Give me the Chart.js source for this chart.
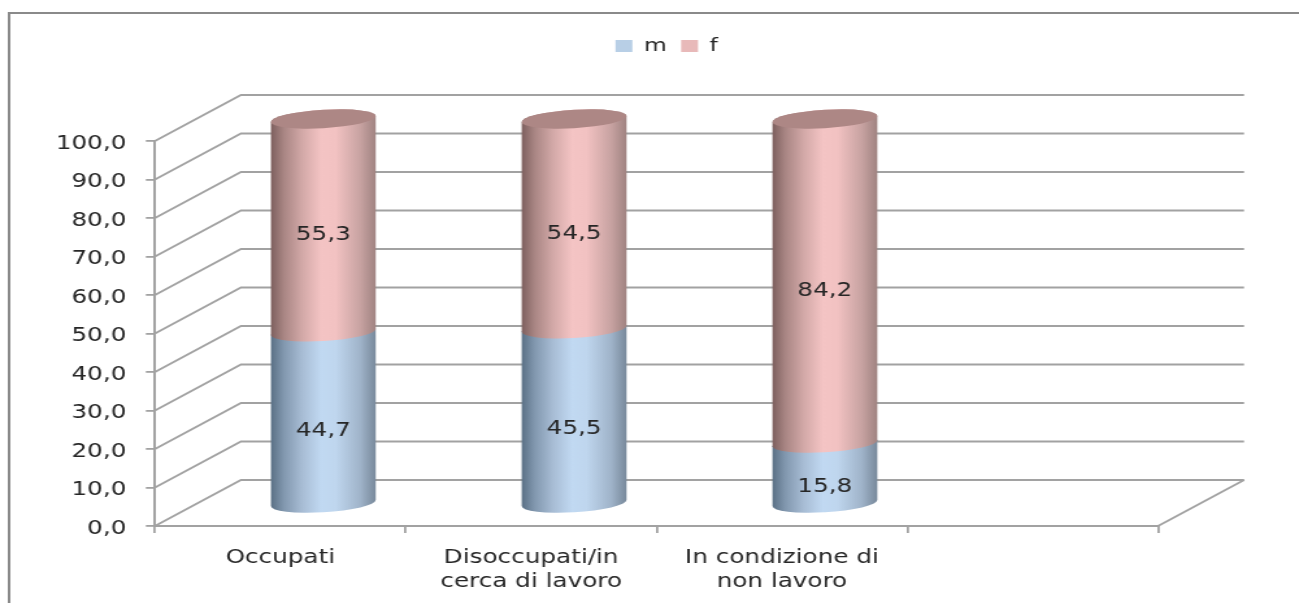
<!DOCTYPE html>
<html>
<head>
<meta charset="utf-8">
<title>Occupati per sesso</title>
<script src="https://cdn.jsdelivr.net/npm/chart.js@4"></script>
<style>
  html, body { margin: 0; padding: 0; background: #fff; overflow: hidden; }
  /* the chart is laid out 1000 wide and widened to fill the window */
  #chart { display: block; transform: scaleX(1.299); transform-origin: 0 0; }
</style>
</head>
<body>
<canvas id="chart" width="1000" height="603"></canvas>
<script>
const categories = ['Occupati', ['Disoccupati/in', 'cerca di lavoro'], ['In condizione di', 'non lavoro'], ''];
const maleValues = [44.7, 45.5, 15.8, null];
const femaleValues = [55.3, 54.5, 84.2, null];
const seriesNames = ['m', 'f'];

const FONT = { family: '"DejaVu Sans"', size: 19 };
const TEXT = '#262626';
const LINE = '#a2a2a2';

// depth of the fake 3D box, in canvas pixels
const WALL_DX = 66.2, WALL_DY = -46;
const BAR_DX = 33.1, BAR_DY = -22;
const LABEL_DY = [-8.5, -12];
const CAP_SLOPE = 0.074, CAP_RY = 9.2;

const pinkStops = [[0, '#7d5f5e'], [0.12, '#a88583'], [0.3, '#d3a9a8'], [0.48, '#f4c4c4'], [0.62, '#f2c2c2'], [0.85, '#c8a3a2'], [1, '#a08381']];
const blueStops = [[0, '#5a7085'], [0.12, '#8197ae'], [0.3, '#a8bdd5'], [0.48, '#c1d9f2'], [0.62, '#bfd6ee'], [0.85, '#a0b4ca'], [1, '#78899b']];
// order follows the datasets: m is blue, f is pink
const gradients = [blueStops, pinkStops];

const fmt = v => v.toFixed(1).replace('.', ',');

function drawCylinders(chart, idx) {
  const ctx = chart.ctx;
  const values = chart.data.datasets[idx].data;
  const isTop = idx === chart.data.datasets.length - 1;
  chart.getDatasetMeta(idx).data.forEach((bar, i) => {
    if (values[i] == null) return;
    const a = bar.width / 2;
    ctx.save();
    ctx.translate(bar.x + BAR_DX, BAR_DY);
    ctx.transform(1, -CAP_SLOPE, 0, 1, 0, 0);
    const g = ctx.createLinearGradient(-a, 0, a, 0);
    gradients[idx].forEach(s => g.addColorStop(s[0], s[1]));
    ctx.fillStyle = g;
    ctx.beginPath();
    ctx.ellipse(0, bar.base, a, CAP_RY, 0, 0, Math.PI);
    ctx.ellipse(0, bar.y, a, CAP_RY, 0, Math.PI, Math.PI * 2);
    ctx.closePath();
    ctx.fill();
    if (isTop) {
      ctx.fillStyle = '#ad8785';
      ctx.beginPath();
      ctx.ellipse(0, bar.y, a, CAP_RY, 0, 0, Math.PI * 2);
      ctx.fill();
    }
    ctx.restore();
  });
}

const box3d = {
  id: 'box3d',
  beforeInit(chart) {
    // reserve the space under the legend
    const fit = chart.legend.fit;
    chart.legend.fit = function () {
      fit.call(this);
      this.height = 115;
    };
  },
  afterLayout(chart) {
    // legend sits right of the centre
    chart.legend.left += 67.5;
    chart.legend.right += 67.5;
    chart.legend.legendHitBoxes.forEach(h => { h.left += 67.5; });
    // value labels sit a little below their ticks
    const y = chart.scales.y;
    if (!y.labelsNudged) {
      const drawLabels = y.drawLabels;
      y.drawLabels = function (area) {
        this.ctx.save();
        this.ctx.translate(0, 3);
        drawLabels.call(this, area);
        this.ctx.restore();
      };
      y.labelsNudged = true;
    }
  },
  beforeDraw(chart) {
    const ctx = chart.ctx;
    // outer frame, open on the right and at the bottom
    ctx.save();
    ctx.strokeStyle = '#8a8a8a';
    ctx.lineWidth = 2;
    ctx.beginPath();
    ctx.moveTo(7, 603);
    ctx.lineTo(7, 13);
    ctx.lineTo(1000, 13);
    ctx.stroke();
    ctx.restore();
  },
  beforeDatasetsDraw(chart) {
    const ctx = chart.ctx;
    const { x, y } = chart.scales;
    ctx.save();
    ctx.strokeStyle = LINE;
    ctx.lineWidth = 1.8;
    y.ticks.forEach(t => {
      const py = y.getPixelForValue(t.value);
      ctx.beginPath();
      ctx.moveTo(x.left, py);
      ctx.lineTo(x.left + WALL_DX, py + WALL_DY);
      ctx.lineTo(x.right + WALL_DX, py + WALL_DY);
      ctx.stroke();
    });
    // floor edge on the right
    ctx.beginPath();
    ctx.moveTo(x.right, y.bottom);
    ctx.lineTo(x.right + WALL_DX, y.bottom + WALL_DY);
    ctx.stroke();
    ctx.restore();
    // m first so the bottom curve of f lies over it
    chart.data.datasets.forEach((ds, d) => drawCylinders(chart, d));
  },
  // the cylinders replace the flat bars
  beforeDatasetDraw() {
    return false;
  },
  afterDatasetsDraw(chart) {
    const ctx = chart.ctx;
    ctx.save();
    ctx.font = `${FONT.size}px ${FONT.family}`;
    ctx.fillStyle = TEXT;
    ctx.textAlign = 'center';
    ctx.textBaseline = 'middle';
    chart.data.datasets.forEach((ds, d) => {
      chart.getDatasetMeta(d).data.forEach((bar, i) => {
        if (ds.data[i] == null) return;
        ctx.fillText(fmt(ds.data[i]), bar.x + BAR_DX, (bar.y + bar.base) / 2 + LABEL_DY[d]);
      });
    });
    ctx.restore();
  }
};

new Chart(document.getElementById('chart'), {
  type: 'bar',
  data: {
    labels: categories,
    datasets: [
      { label: seriesNames[0], data: maleValues, backgroundColor: '#b8cfe6', categoryPercentage: 1, barPercentage: 0.418 },
      { label: seriesNames[1], data: femaleValues, backgroundColor: '#e8b9b9', categoryPercentage: 1, barPercentage: 0.418 }
    ]
  },
  options: {
    responsive: false,
    animation: false,
    devicePixelRatio: 1,
    layout: { padding: { top: 26, right: 108.5, bottom: 0, left: 0 } },
    plugins: {
      tooltip: { enabled: false },
      legend: {
        position: 'top',
        labels: { boxWidth: 13, boxHeight: 12, padding: 11, color: TEXT, font: { ...FONT, size: 18 } }
      }
    },
    scales: {
      x: {
        stacked: true,
        afterFit: s => { s.height = 77; },
        grid: { drawOnChartArea: false, color: LINE, lineWidth: 1.8, tickLength: 7 },
        border: { color: LINE, width: 2 },
        ticks: { color: TEXT, font: { ...FONT, lineHeight: 1.28 }, padding: 13, maxRotation: 0, autoSkip: false }
      },
      y: {
        stacked: true,
        min: 0,
        max: 100,
        afterFit: s => { s.width = 119.3; },
        grid: { drawOnChartArea: false, color: LINE, lineWidth: 1.8, tickLength: 7 },
        border: { color: LINE, width: 2 },
        ticks: { stepSize: 10, color: TEXT, font: FONT, padding: 15, callback: v => fmt(v) }
      }
    }
  },
  plugins: [box3d]
});
</script>
</body>
</html>
